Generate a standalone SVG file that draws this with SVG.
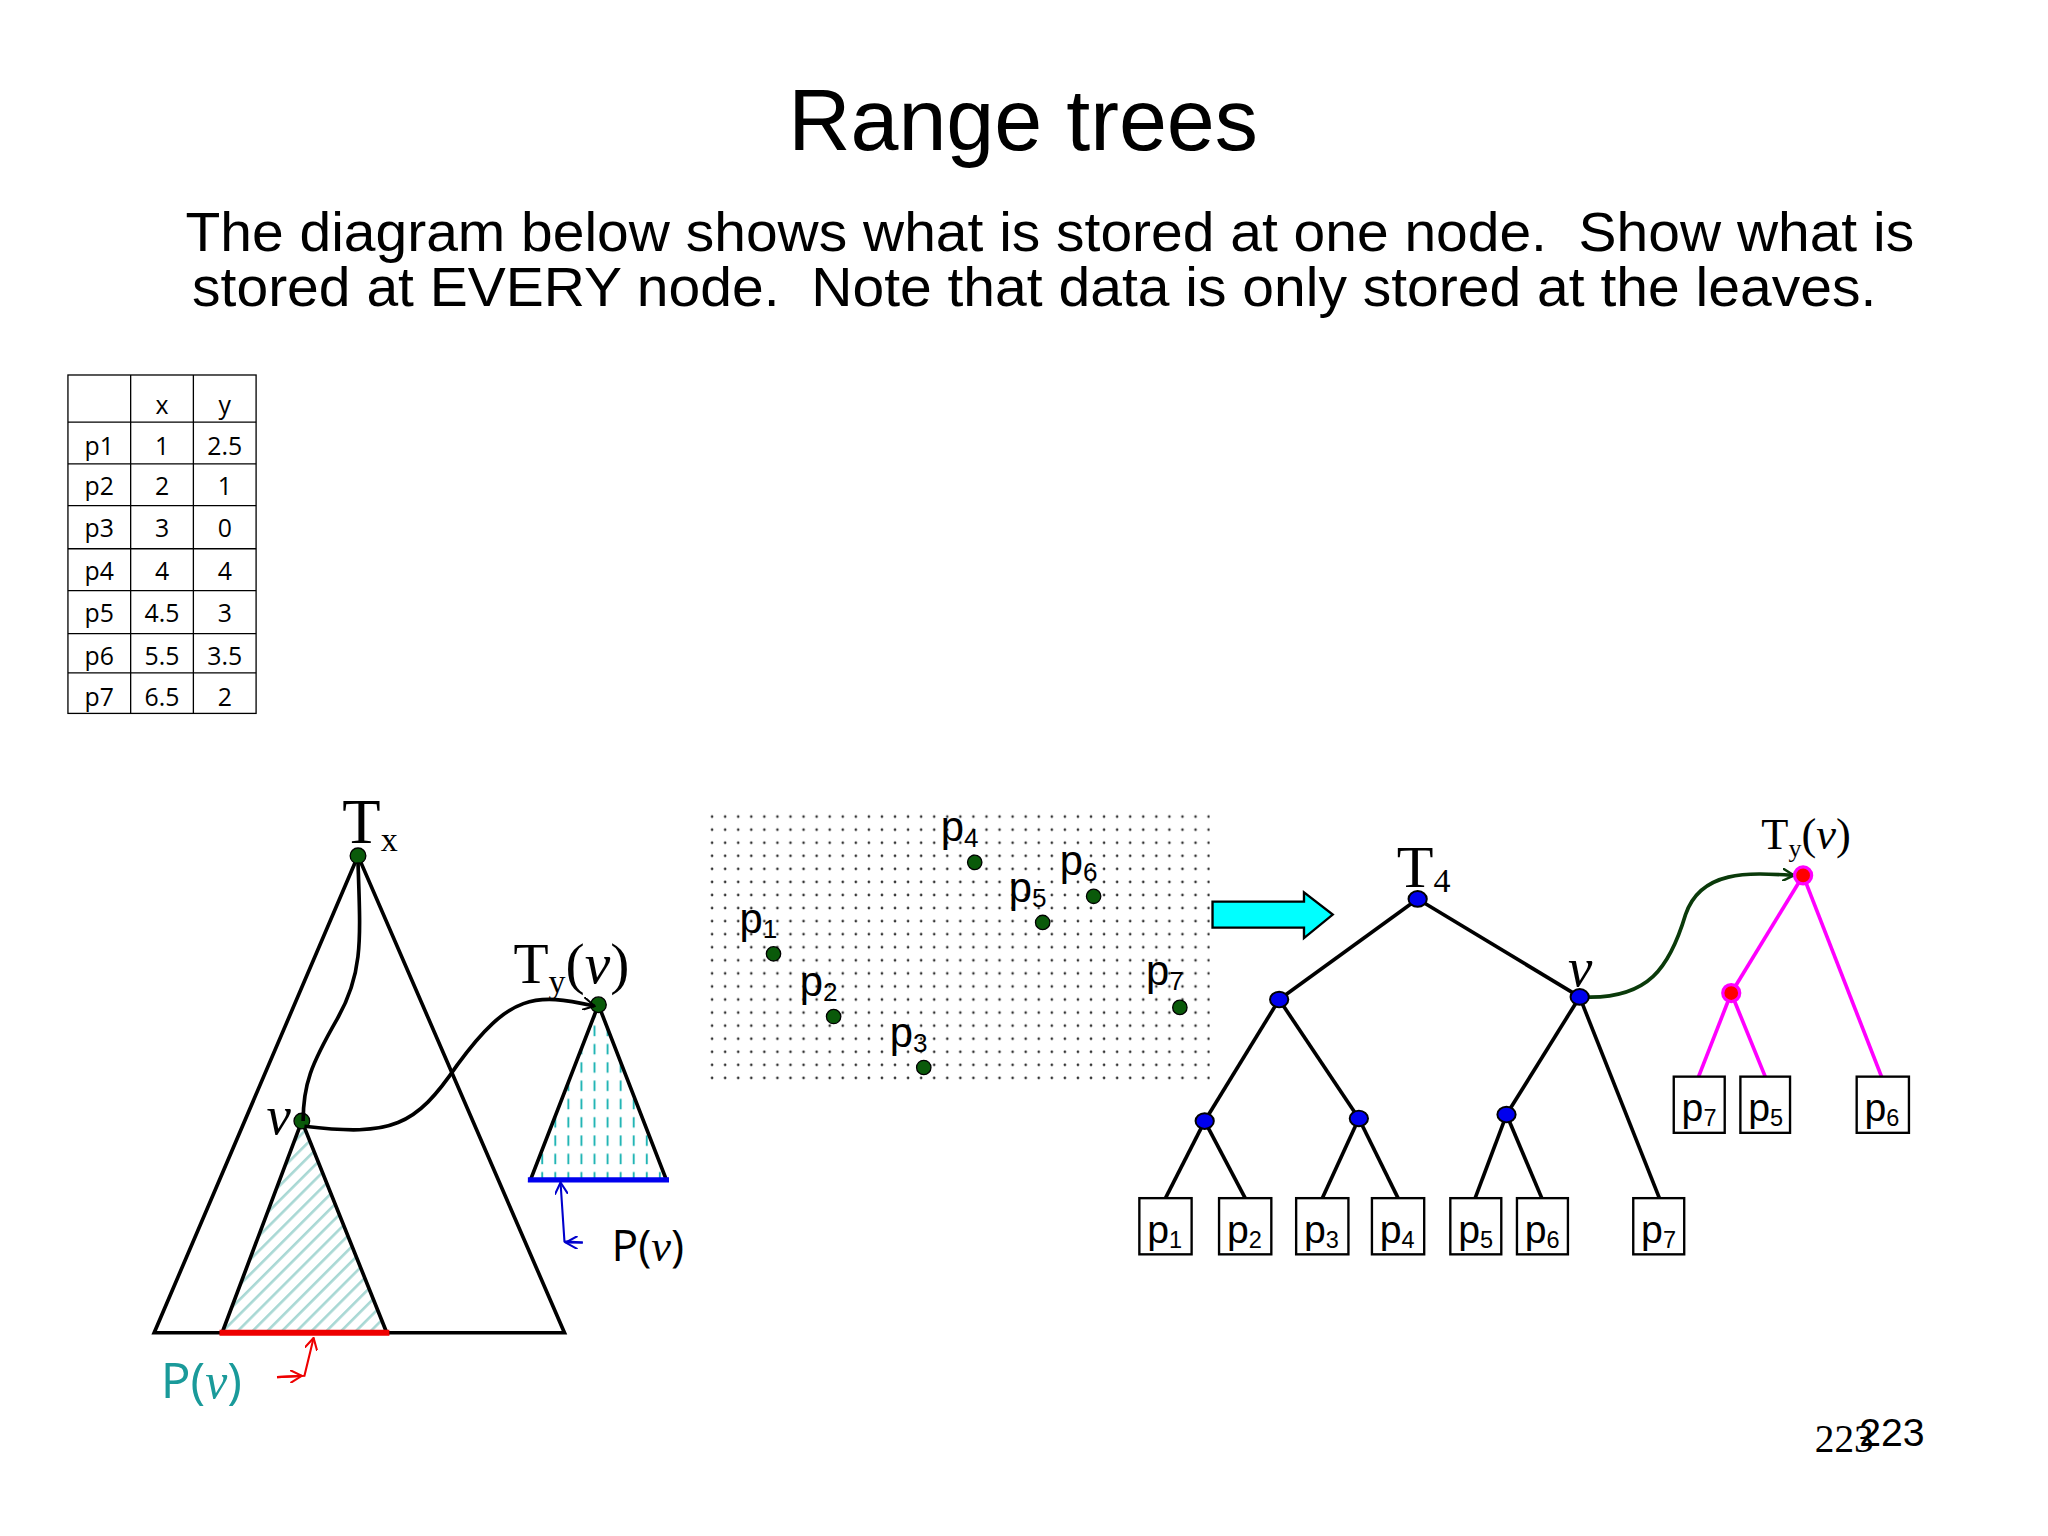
<svg xmlns="http://www.w3.org/2000/svg" width="2048" height="1536" viewBox="0 0 2048 1536">
<defs>
<pattern id="diag" width="8" height="8" patternUnits="userSpaceOnUse" patternTransform="rotate(45)"><rect width="8" height="8" fill="#fff"/><line x1="0" y1="0" x2="0" y2="8" stroke="#a8d8d4" stroke-width="4"/></pattern>
<pattern id="vdash" width="10" height="14" patternUnits="userSpaceOnUse"><rect width="10" height="14" fill="#fff"/><line x1="5" y1="1" x2="5" y2="9" stroke="#22b5b5" stroke-width="1.5"/></pattern>
<pattern id="dots" width="10" height="10" patternUnits="userSpaceOnUse"><circle cx="5" cy="5" r="1" fill="#333"/></pattern>
<marker id="ah" markerWidth="10" markerHeight="10" refX="9" refY="5" orient="auto" markerUnits="userSpaceOnUse"><path d="M0,0 L9,5 L0,10" fill="none" stroke="#000" stroke-width="1.6"/></marker>
<marker id="ahg" markerWidth="10" markerHeight="10" refX="9" refY="5" orient="auto" markerUnits="userSpaceOnUse"><path d="M0,0 L9,5 L0,10" fill="none" stroke="#0a3a0a" stroke-width="1.8"/></marker>
<marker id="ahr" markerWidth="10" markerHeight="10" refX="9" refY="5" orient="auto" markerUnits="userSpaceOnUse"><path d="M0,0 L9,5 L0,10" fill="none" stroke="#e00" stroke-width="1.6"/></marker>
<marker id="ahb" markerWidth="10" markerHeight="10" refX="9" refY="5" orient="auto" markerUnits="userSpaceOnUse"><path d="M0,0 L9,5 L0,10" fill="none" stroke="#00c" stroke-width="1.6"/></marker>
</defs>
<style>
.s{font-family:"Liberation Sans",Arial,sans-serif}
.o{font-family:"Open Sans","Liberation Sans",sans-serif}
.r{font-family:"Liberation Serif","Times New Roman",serif}
.e{stroke:#000;stroke-width:2.8;fill:none}
.m{stroke:#f0f;stroke-width:2.8;fill:none}
.box{fill:#fff;stroke:#000;stroke-width:1.8}
.bn{fill:#0000ee;stroke:#000;stroke-width:1.5}
.gd{fill:#0a5a0a;stroke:#000;stroke-width:1}
.tc line{stroke:#000;stroke-width:1}
.pre{white-space:pre}
</style>
<rect width="2048" height="1536" fill="#fff"/>
<g transform="scale(1.3066)">
<g id="title" class="s">
<text x="783" y="115" font-size="66" text-anchor="middle">Range trees</text>
<text class="pre" x="142" y="192" font-size="42" textLength="1323" lengthAdjust="spacingAndGlyphs">The diagram below shows what is stored at one node.  Show what is</text>
<text class="pre" x="147" y="234" font-size="42" textLength="1289" lengthAdjust="spacingAndGlyphs">stored at EVERY node.  Note that data is only stored at the leaves.</text>
</g>
<g id="table" class="o" font-size="19" text-anchor="middle">
<rect x="52" y="287" width="144" height="259" fill="#fff" stroke="#000" stroke-width="1"/>
<g class="tc">
<line x1="100" y1="287" x2="100" y2="546"/><line x1="148" y1="287" x2="148" y2="546"/>
<line x1="52" y1="323" x2="196" y2="323"/><line x1="52" y1="355" x2="196" y2="355"/><line x1="52" y1="387" x2="196" y2="387"/><line x1="52" y1="420" x2="196" y2="420"/><line x1="52" y1="452" x2="196" y2="452"/><line x1="52" y1="485" x2="196" y2="485"/><line x1="52" y1="515" x2="196" y2="515"/>
</g>
<text x="124" y="317">x</text><text x="172" y="317">y</text>
<text x="76" y="348">p1</text><text x="124" y="348">1</text><text x="172" y="348">2.5</text>
<text x="76" y="379">p2</text><text x="124" y="379">2</text><text x="172" y="379">1</text>
<text x="76" y="411">p3</text><text x="124" y="411">3</text><text x="172" y="411">0</text>
<text x="76" y="444">p4</text><text x="124" y="444">4</text><text x="172" y="444">4</text>
<text x="76" y="476">p5</text><text x="124" y="476">4.5</text><text x="172" y="476">3</text>
<text x="76" y="509">p6</text><text x="124" y="509">5.5</text><text x="172" y="509">3.5</text>
<text x="76" y="540">p7</text><text x="124" y="540">6.5</text><text x="172" y="540">2</text>
</g>
<g id="Tx">
<polygon points="274,655 118,1020 432,1020" fill="none" stroke="#000" stroke-width="2.8"/>
<text class="r" x="262" y="645" font-size="48">T<tspan font-size="26" dy="6">x</tspan></text>
</g>
<g id="subtree">
<polygon points="231,858 170,1020 296,1020" fill="url(#diag)" stroke="#000" stroke-width="2.8"/>
<line x1="168" y1="1020" x2="298" y2="1020" stroke="#e00" stroke-width="4.5"/>
<text class="r" x="204" y="868" font-size="42" font-style="italic">v</text>
<text class="o" x="123" y="1070" font-size="38" fill="#1a9a9a">P(<tspan class="r" font-style="italic">v</tspan>)</text>
</g>
<g id="Ty">
<polygon points="458,769 406,903 510,903" fill="url(#vdash)" stroke="#000" stroke-width="2.8"/>
<line x1="404" y1="903" x2="512" y2="903" stroke="#00e" stroke-width="4"/>
<text class="r" x="393" y="752" font-size="44">T<tspan font-size="26" dy="8">y</tspan><tspan dy="-8">(<tspan font-style="italic">v</tspan>)</tspan></text>
<text class="o" x="468" y="965" font-size="34">P(<tspan class="r" font-style="italic">v</tspan>)</text>
</g>
<g id="dotsnodes">
<circle cx="274" cy="655" r="6" class="gd"/>
<circle cx="231" cy="858" r="6" class="gd"/>
<circle cx="458" cy="769" r="6" class="gd"/>
</g>
<g id="plane">
<rect x="538" y="620" width="388" height="210" fill="url(#dots)"/>
<g class="gd"><circle cx="592" cy="730" r="5.5"/><circle cx="638" cy="778" r="5.5"/><circle cx="707" cy="817" r="5.5"/><circle cx="746" cy="660" r="5.5"/><circle cx="798" cy="706" r="5.5"/><circle cx="837" cy="686" r="5.5"/><circle cx="903" cy="771" r="5.5"/></g>
<g class="s" font-size="32">
<text x="566" y="714">p<tspan font-size="20" dy="4">1</tspan></text>
<text x="612" y="762">p<tspan font-size="20" dy="4">2</tspan></text>
<text x="681" y="801">p<tspan font-size="20" dy="4">3</tspan></text>
<text x="720" y="644">p<tspan font-size="20" dy="4">4</tspan></text>
<text x="772" y="690">p<tspan font-size="20" dy="4">5</tspan></text>
<text x="811" y="670">p<tspan font-size="20" dy="4">6</tspan></text>
<text x="877" y="754">p<tspan font-size="20" dy="4">7</tspan></text>
</g>
</g>
<g id="bigarrow"><polygon points="928,690 998,690 998,683 1020,700 998,718 998,710 928,710" fill="#00ffff" stroke="#000" stroke-width="1.8"/></g>
<g id="connectors">
<path class="e" d="M274,660 C276,720 278,745 258,780 C238,815 232,830 232,858" stroke-width="2.4"/>
<path class="e" d="M233,862 C300,870 318,862 350,815 C390,760 410,760 455,770" stroke-width="2.4" marker-end="url(#ah)"/>
<path d="M446,951 L432,950 L429,905" fill="none" stroke="#00c" stroke-width="1.6" marker-end="url(#ahb)"/>
<path d="M446,951 L433,951" fill="none" stroke="#00c" stroke-width="1.6" marker-end="url(#ahb)"/>
<path d="M212,1054 L233,1053 L240,1024" fill="none" stroke="#e00" stroke-width="1.6" marker-end="url(#ahr)"/>
<path d="M212,1054 L231,1053" fill="none" stroke="#e00" stroke-width="1.6" marker-end="url(#ahr)"/>
<line class="e" x1="1085" y1="688" x2="979" y2="765"/>
<line class="e" x1="1085" y1="688" x2="1209" y2="763"/>
<line class="e" x1="979" y1="765" x2="922" y2="858"/>
<line class="e" x1="979" y1="765" x2="1040" y2="856"/>
<line class="e" x1="1209" y1="763" x2="1153" y2="853"/>
<line class="e" x1="1209" y1="763" x2="1270" y2="917"/>
<line class="e" x1="922" y1="858" x2="892" y2="917"/>
<line class="e" x1="922" y1="858" x2="953" y2="917"/>
<line class="e" x1="1040" y1="856" x2="1012" y2="917"/>
<line class="e" x1="1040" y1="856" x2="1070" y2="917"/>
<line class="e" x1="1153" y1="853" x2="1129" y2="917"/>
<line class="e" x1="1153" y1="853" x2="1180" y2="917"/>
<line class="m" x1="1380" y1="670" x2="1325" y2="760"/>
<line class="m" x1="1380" y1="670" x2="1440" y2="824"/>
<line class="m" x1="1325" y1="760" x2="1300" y2="824"/>
<line class="m" x1="1325" y1="760" x2="1351" y2="824"/>
<path d="M1212,763 C1262,765 1278,740 1290,700 C1302,665 1340,668 1373,670" fill="none" stroke="#0a3a0a" stroke-width="2.8" marker-end="url(#ahg)"/>
</g>
<g id="T4">
<ellipse cx="1085" cy="688" rx="7" ry="6" class="bn"/>
<text class="r" x="1069" y="679" font-size="46">T<tspan font-size="26" dy="4">4</tspan></text>
</g>
<g id="innernodes">
<ellipse cx="979" cy="765" rx="7" ry="6" class="bn"/>
<ellipse cx="1209" cy="763" rx="7" ry="6" class="bn"/>
<ellipse cx="922" cy="858" rx="7" ry="6" class="bn"/>
<ellipse cx="1040" cy="856" rx="7" ry="6" class="bn"/>
<ellipse cx="1153" cy="853" rx="7" ry="6" class="bn"/>
<text class="r" x="1200" y="755" font-size="42" font-style="italic">v</text>
</g>
<g id="leaves" class="s" font-size="30">
<rect class="box" x="872" y="917" width="40" height="43"/><text x="878" y="951">p<tspan font-size="18" dy="4">1</tspan></text>
<rect class="box" x="933" y="917" width="40" height="43"/><text x="939" y="951">p<tspan font-size="18" dy="4">2</tspan></text>
<rect class="box" x="992" y="917" width="40" height="43"/><text x="998" y="951">p<tspan font-size="18" dy="4">3</tspan></text>
<rect class="box" x="1050" y="917" width="40" height="43"/><text x="1056" y="951">p<tspan font-size="18" dy="4">4</tspan></text>
<rect class="box" x="1110" y="917" width="39" height="43"/><text x="1116" y="951">p<tspan font-size="18" dy="4">5</tspan></text>
<rect class="box" x="1161" y="917" width="39" height="43"/><text x="1167" y="951">p<tspan font-size="18" dy="4">6</tspan></text>
<rect class="box" x="1250" y="917" width="39" height="43"/><text x="1256" y="951">p<tspan font-size="18" dy="4">7</tspan></text>
</g>
<g id="Tyv">
<circle cx="1380" cy="670" r="6.5" fill="#f00" stroke="#f0f" stroke-width="2.5"/>
<circle cx="1325" cy="760" r="6.5" fill="#f00" stroke="#f0f" stroke-width="2.5"/>
<text class="r" x="1348" y="650" font-size="34">T<tspan font-size="20" dy="6">y</tspan><tspan dy="-6">(<tspan font-style="italic">v</tspan>)</tspan></text>
<g class="s" font-size="30">
<rect class="box" x="1281" y="824" width="39" height="43"/><text x="1287" y="858">p<tspan font-size="18" dy="4">7</tspan></text>
<rect class="box" x="1332" y="824" width="38" height="43"/><text x="1338" y="858">p<tspan font-size="18" dy="4">5</tspan></text>
<rect class="box" x="1421" y="824" width="40" height="43"/><text x="1427" y="858">p<tspan font-size="18" dy="4">6</tspan></text>
</g>
</g>
<g id="pagenum">
<text class="r" x="1389" y="1111" font-size="30">223</text>
<text class="s" x="1423" y="1107" font-size="30">223</text>
</g>
</g>
</svg>
